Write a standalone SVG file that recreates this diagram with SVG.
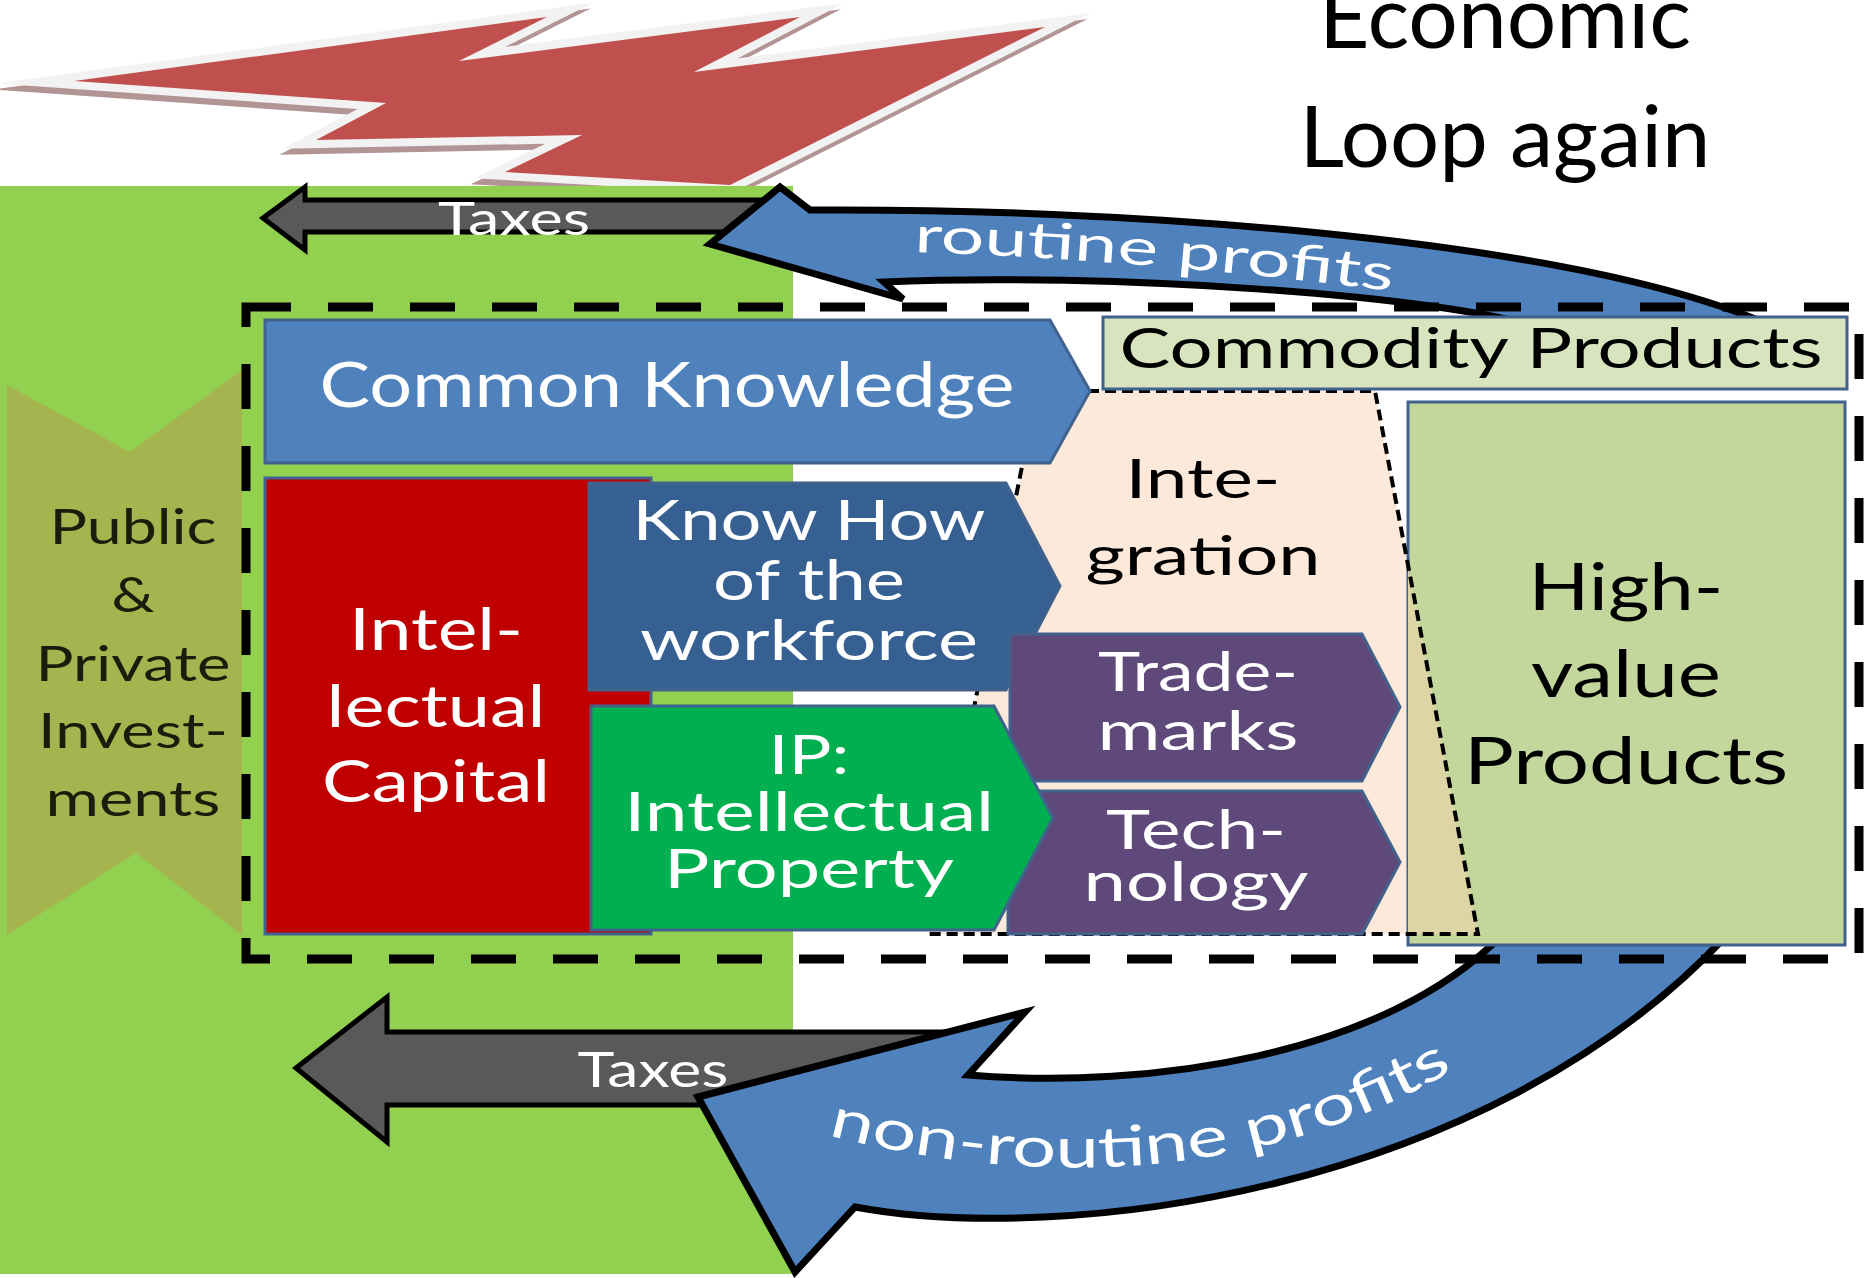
<svg xmlns="http://www.w3.org/2000/svg" width="1872" height="1278" viewBox="0 0 1872 1278">
<defs>
<style>
text{font-family:Lato,"Open Sans","Liberation Sans",sans-serif}
.wt{fill:#ffffff;text-anchor:middle}
.bk{fill:#000000;text-anchor:middle}
.dk{fill:#1c1c0c;text-anchor:middle}
.box{stroke:#40628c;stroke-width:3}
.tax{fill:#595959;stroke:#000;stroke-width:5;stroke-linejoin:miter}
.flow{fill:#4f81bd;stroke:#000;stroke-width:7;stroke-linejoin:miter}
</style>
<polygon id="bolt" points="74,81 547,17 459,61 800,17 694,72 1045,27 730,185 505,172 582,135 316,140 386,103"/>
<path id="rp-path" d="M914,252 Q1150,260 1400,292"/>
<path id="nrp-path" d="M828,1135 C1000,1180 1250,1197 1470,1060"/>
</defs>

<rect width="1872" height="1278" fill="#ffffff"/>

<!-- lightning bolt with white rim and soft shadow -->
<g id="bolt-shape">
<use href="#bolt" transform="translate(-3,6)" fill="#b39494" stroke="#b39494" stroke-width="16" stroke-miterlimit="20"/>
<use href="#bolt" fill="#f2f2f2" stroke="#f2f2f2" stroke-width="16" stroke-miterlimit="20"/>
<use href="#bolt" fill="#c0504d"/>
</g>

<!-- title -->
<g id="title">
<text x="1505" y="48" font-size="88" textLength="372" lengthAdjust="spacingAndGlyphs" class="bk">Economic</text>
<text x="1505" y="167" font-size="86" textLength="411" lengthAdjust="spacingAndGlyphs" class="bk">Loop again</text>
</g>

<!-- public sector backdrop -->
<rect id="public-area" x="0" y="186" width="793" height="1088" fill="#92d050"/>

<g id="investments">
<polygon points="7,385 130,452 242,370 242,935 136,853 7,935" fill="#a5b44f"/>
<text x="133" y="544" font-size="49" textLength="167" lengthAdjust="spacingAndGlyphs" class="dk">Public</text>
<text x="133" y="612" font-size="49" textLength="43" lengthAdjust="spacingAndGlyphs" class="dk">&amp;</text>
<text x="133" y="681" font-size="49" textLength="195" lengthAdjust="spacingAndGlyphs" class="dk">Private</text>
<text x="133" y="748" font-size="49" textLength="190" lengthAdjust="spacingAndGlyphs" class="dk">Invest-</text>
<text x="133" y="816" font-size="49" textLength="175" lengthAdjust="spacingAndGlyphs" class="dk">ments</text>
</g>

<!-- flows: taxes and profits -->
<g id="connectors">
<polygon id="taxes-top" class="tax" points="263,218 305,187 305,200 780,200 780,232 305,232 305,250"/>
<polygon id="taxes-bottom" class="tax" points="296,1068 387,997 387,1032 960,1032 960,1105 387,1105 387,1142"/>
<path id="routine-profits" class="flow" d="M710,244 L780,187 L810,210 C1100,208 1560,235 1770,325 L1545,330 C1450,295 1100,272 884,282 L903,299 Z"/>
<path id="nonroutine-profits" class="flow" d="M698,1097 L1025,1012 L968,1075 C1150,1090 1385,1055 1502,935 L1505,920 L1745,920 L1727,935 C1485,1195 1060,1245 855,1207 L795,1272 Z"/>
</g>

<!-- integration zone -->
<polygon id="integration-fill" points="1037,391 1375,391 1478,934 929,934" fill="#fde9d9"/>

<g id="high-value">
<rect class="box" x="1408" y="402" width="437" height="543" fill="#c3d69b"/>
<polygon points="1408,565 1408,934 1478,934" fill="#ddd5a5"/>
</g>

<polygon id="integration-edge" points="1037,391 1375,391 1478,934 929,934" fill="none" stroke="#000" stroke-width="4" stroke-dasharray="11 6"/>

<g id="commodity">
<rect class="box" x="1103" y="317" width="744" height="72" fill="#d7e4bd"/>
</g>

<g id="common-knowledge">
<path class="box" d="M265,320 H1050 L1090,391 L1050,463 H265 Z" fill="#4f81bd"/>
</g>

<g id="intellectual-capital">
<rect class="box" x="265" y="478" width="386" height="456" fill="#c00000"/>
</g>

<g id="know-how">
<path class="box" d="M589,483 H1006 L1060,586 L1006,690 H589 Z" fill="#376092"/>
</g>

<g id="trademarks">
<path class="box" d="M1010,634 H1362 L1400,707 L1362,781 H1010 Z" fill="#5f497a"/>
</g>

<g id="technology">
<path class="box" d="M1008,791 H1362 L1400,862 L1362,934 H1008 Z" fill="#5f497a"/>
</g>

<g id="ip">
<path class="box" d="M591,706 H994 L1053,818 L994,930 H591 Z" fill="#00b050"/>
</g>

<!-- company boundary -->
<rect id="company" x="246" y="307" width="1613" height="652" fill="none" stroke="#000" stroke-width="9" stroke-dasharray="45 37"/>

<!-- labels -->
<g id="labels">
<text x="514" y="235" font-size="47" textLength="152" lengthAdjust="spacingAndGlyphs" class="wt">Taxes</text>
<text x="653" y="1087" font-size="49" textLength="151" lengthAdjust="spacingAndGlyphs" class="wt">Taxes</text>
<text font-size="50" fill="#ffffff"><textPath href="#rp-path" textLength="480" lengthAdjust="spacingAndGlyphs">routine profits</textPath></text>
<text font-size="56" fill="#ffffff"><textPath href="#nrp-path" textLength="645" lengthAdjust="spacingAndGlyphs">non-routine profits</textPath></text>

<text x="667" y="407" font-size="62" textLength="695" lengthAdjust="spacingAndGlyphs" class="wt">Common Knowledge</text>

<text x="436" y="650" font-size="58" textLength="174" lengthAdjust="spacingAndGlyphs" class="wt">Intel-</text>
<text x="436" y="727" font-size="58" textLength="219" lengthAdjust="spacingAndGlyphs" class="wt">lectual</text>
<text x="436" y="802" font-size="58" textLength="228" lengthAdjust="spacingAndGlyphs" class="wt">Capital</text>

<text x="809" y="540" font-size="56" textLength="353" lengthAdjust="spacingAndGlyphs" class="wt">Know How</text>
<text x="809" y="600" font-size="56" textLength="192" lengthAdjust="spacingAndGlyphs" class="wt">of the</text>
<text x="809" y="660" font-size="56" textLength="338" lengthAdjust="spacingAndGlyphs" class="wt">workforce</text>

<text x="809" y="774" font-size="55" textLength="81" lengthAdjust="spacingAndGlyphs" class="wt">IP:</text>
<text x="809" y="831" font-size="55" textLength="370" lengthAdjust="spacingAndGlyphs" class="wt">Intellectual</text>
<text x="809" y="888" font-size="55" textLength="290" lengthAdjust="spacingAndGlyphs" class="wt">Property</text>

<text x="1203" y="498" font-size="55" textLength="155" lengthAdjust="spacingAndGlyphs" class="bk">Inte-</text>
<text x="1203" y="575" font-size="55" textLength="235" lengthAdjust="spacingAndGlyphs" class="bk">gration</text>

<text x="1198" y="691" font-size="55" textLength="200" lengthAdjust="spacingAndGlyphs" class="wt">Trade-</text>
<text x="1198" y="750" font-size="55" textLength="201" lengthAdjust="spacingAndGlyphs" class="wt">marks</text>

<text x="1196" y="849" font-size="55" textLength="180" lengthAdjust="spacingAndGlyphs" class="wt">Tech-</text>
<text x="1196" y="901" font-size="55" textLength="225" lengthAdjust="spacingAndGlyphs" class="wt">nology</text>

<text x="1471" y="368" font-size="56" textLength="703" lengthAdjust="spacingAndGlyphs" class="bk">Commodity Products</text>

<text x="1626" y="610" font-size="65" textLength="195" lengthAdjust="spacingAndGlyphs" class="bk">High-</text>
<text x="1626" y="697" font-size="65" textLength="190" lengthAdjust="spacingAndGlyphs" class="bk">value</text>
<text x="1626" y="784" font-size="65" textLength="324" lengthAdjust="spacingAndGlyphs" class="bk">Products</text>
</g>
</svg>
